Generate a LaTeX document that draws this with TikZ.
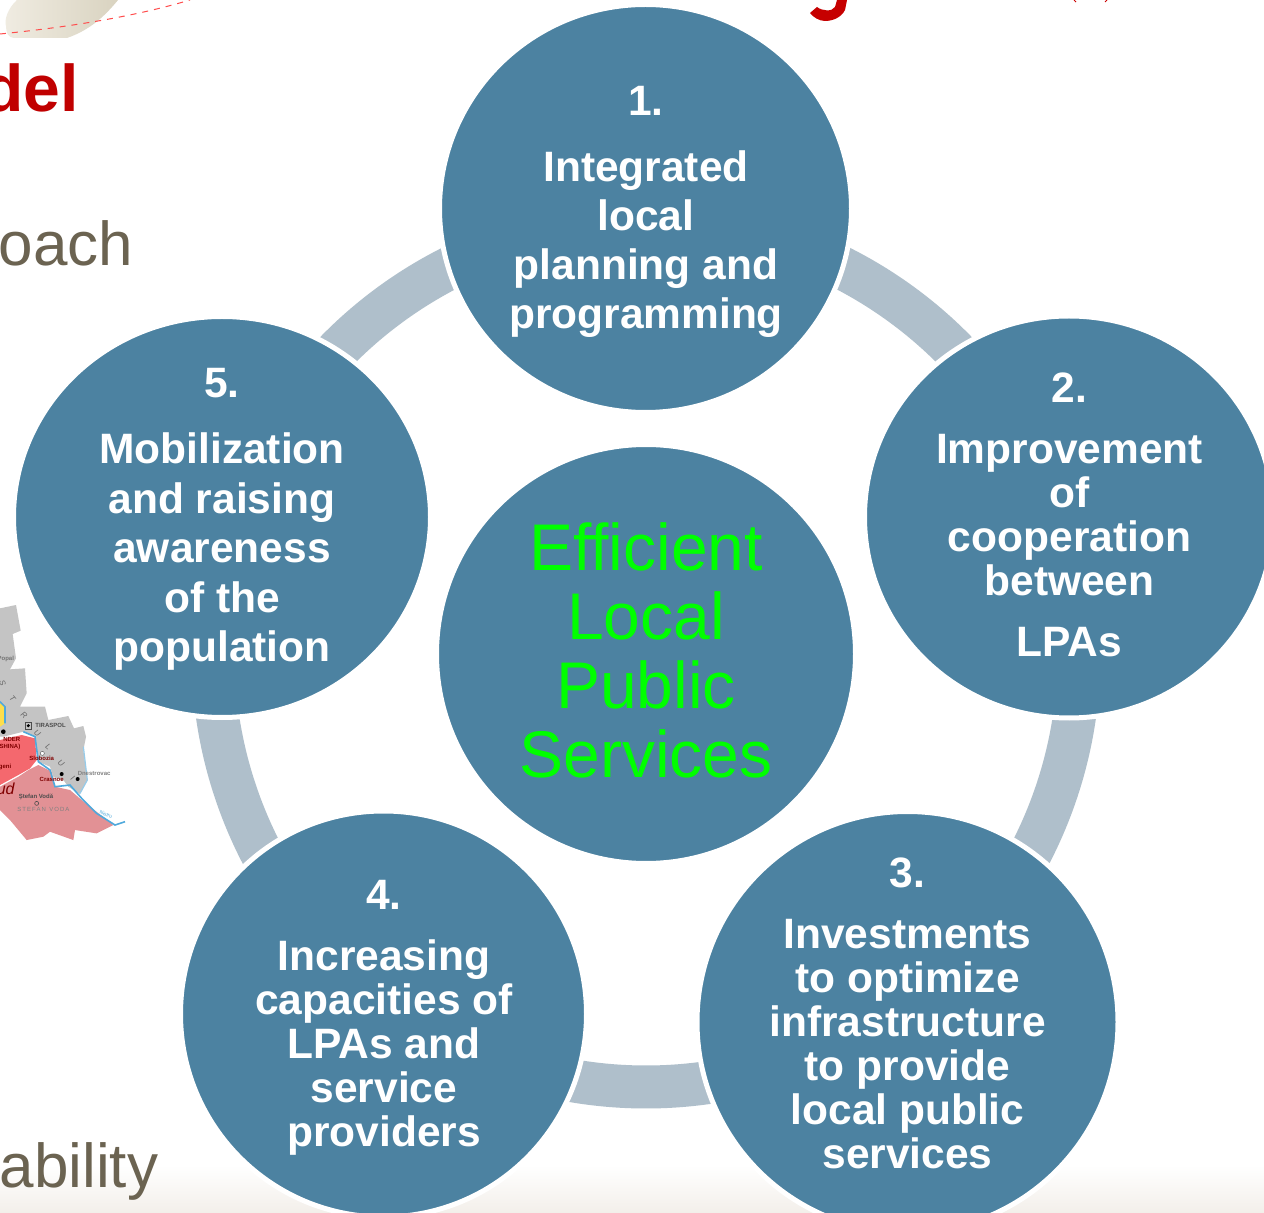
\documentclass[tikz,border=0pt]{standalone}
\usepackage{fontspec}
\setmainfont{Liberation Sans}
\usetikzlibrary{shapes.geometric}
\definecolor{discblue}{HTML}{4C82A1}
\definecolor{ringblue}{HTML}{AFBFCB}
\definecolor{titlered}{HTML}{C00000}
\definecolor{slidetext}{HTML}{6B6351}
\definecolor{mapgrey}{HTML}{C4C4C4}
\definecolor{mapred}{HTML}{F4686E}
\definecolor{mappink}{HTML}{E29195}
\definecolor{mapriver}{HTML}{4FA9DC}
\definecolor{blobleft}{HTML}{F0ECE2}
\definecolor{blobright}{HTML}{D9D3C0}
\definecolor{footbeige}{HTML}{F3EFEA}
\tikzset{
  disc/.style={ellipse,fill=discblue,draw=white,line width=2.5pt,inner sep=0pt},
  disctext/.style={text=white,font=\bfseries\fontsize{21.25}{22}\selectfont,align=center,inner sep=0pt,anchor=north},
  hubtext/.style={text=green,font=\fontsize{33}{34.5}\selectfont,align=center,inner sep=0pt,anchor=north},
  ringarc/.style={draw=ringblue,line width=21.5pt},
  slidewords/.style={text=slidetext,font=\fontsize{31}{34}\selectfont,inner sep=0pt,anchor=base east},
  maplabel/.style={text=black!70,font=\bfseries\fontsize{3}{3.5}\selectfont,inner sep=0pt}
}
\begin{document}
\begin{tikzpicture}[x=0.5pt,y=-0.5pt]
\useasboundingbox (0,0) rectangle (1264,1213);
\clip (0,0) rectangle (1264,1213);
\fill[white] (0,0) rectangle (1264,1213);
\shade[top color=white,bottom color=footbeige] (0,1165) rectangle (1264,1213);
% slide remnants
\shade[left color=blobleft,right color=blobright]
  (17,0) .. controls (8,8) and (4,20) .. (6,26) .. controls (6,32) and (8,38) .. (14,38)
  -- (67,38) .. controls (90,30) and (105,16) .. (118,0) -- cycle;
\draw[red!70!white,dashed,line width=0.5pt] (0,34) .. controls (60,28) and (130,18) .. (190,0);
\fill[titlered!90!red] (810,13) -- (817,7) .. controls (822,11) and (832,12) .. (835,7) -- (837,0) -- (847,0)
  -- (845,10) .. controls (841,18) and (832,21) .. (825,21) .. controls (819,21) and (813,17) .. (810,13) -- cycle;
\draw[red!80!black,line width=0.5pt] (1074,0) -- (1076,2) (1107,0) -- (1105,2);
\node[text=titlered,font=\bfseries\fontsize{33}{36}\selectfont,inner sep=0pt,anchor=base east] (title) at (79,112) {del};
\node[slidewords] (wordone) at (133.5,266) {oach};
\node[slidewords] (wordtwo) at (158.5,1187) {ability};
% map fragment
\begin{scope}[shift={(0,590)},x=0.1667pt,y=-0.1667pt]
  \fill[mapgrey] (0,55) -- (48,45) -- (62,122) -- (38,132) -- (48,205) -- (30,238) -- (75,235) -- (80,310) -- (60,350)
    -- (135,350) -- (145,390) -- (205,378) -- (222,415) -- (250,408) -- (258,440) -- (250,480) -- (262,570)
    -- (240,612) -- (205,590) -- (190,570) -- (160,560) -- (150,530) -- (115,515) -- (105,440) -- (70,425)
    -- (10,440) -- (0,440) -- cycle;
  \fill[yellow!70!orange!70!white] (0,340) -- (12,345) -- (15,400) -- (0,410) -- cycle;
  \fill[mapred] (0,450) -- (65,435) -- (105,445) -- (110,510) -- (90,535) -- (55,555) -- (0,585) -- cycle;
  \fill[mappink] (0,590) -- (55,560) -- (85,540) -- (115,525) -- (155,545) -- (165,590) -- (210,600) -- (245,630)
    -- (340,705) -- (290,730) -- (225,720) -- (220,750) -- (150,725) -- (130,740) -- (80,750) -- (30,690) -- (0,660) -- cycle;
  \draw[mapriver,line width=0.8pt] (70,425) -- (105,440) -- (115,515) -- (150,540) -- (165,590) -- (210,585)
    -- (245,625) -- (290,670) -- (345,705) -- (375,695);
  \draw[mapriver!60!white,line width=0.6pt] (250,470) -- (262,570) -- (240,610);
  \draw[mapriver,line width=0.8pt] (0,335) -- (15,350) -- (15,400);
  \fill[black] (85,407) circle (5);
  \draw[black!70,line width=0.3pt] (75,397) rectangle (95,417);
  \fill[black] (10,425) circle (7);
  \fill[white,draw=black!70,line width=0.2pt] (127,490) circle (6);
  \fill[black] (185,552) circle (6);
  \fill[black] (233,567) circle (6);
  \draw[black!70,line width=0.3pt] (110,640) circle (6);
  \node[maplabel,anchor=west] (m1) at (105,405) {TIRASPOL};
  \node[maplabel,anchor=east,text=black!55] (m2) at (43,208) {Popal};
  \node[maplabel,anchor=east,text=red!50!black] (m3) at (62,449) {NDER};
  \node[maplabel,anchor=east,text=red!50!black] (m4) at (62,470) {SHINA)};
  \node[maplabel,anchor=east,text=red!50!black] (m5) at (35,530) {geni};
  \node[maplabel,anchor=center,text=red!50!black] (m6) at (125,506) {Slobozia};
  \node[maplabel,anchor=center,text=red!50!black] (m7) at (155,569) {Crasnoe};
  \node[maplabel,anchor=west,text=black!50] (m8) at (232,549) {Dnestrovac};
  \node[maplabel,anchor=center,text=black!70] (m9) at (108,620) {Ştefan Vodă};
  \node[maplabel,anchor=center,text=black!50,font=\fontsize{3}{3.5}\selectfont] (m10) at (130,659) {S\,T\,E\,F\,A\,N\ \ V\,O\,D\,A};
  \node[text=red!50!black,font=\itshape\fontsize{8}{9}\selectfont,inner sep=0pt,anchor=base east] (m11) at (45,612) {ud};
  \node[maplabel,rotate=-20,text=mapriver,font=\fontsize{2.5}{3}\selectfont] (m12) at (318,673) {Nistru};
  \node[maplabel,text=black!60,font=\itshape\fontsize{4}{4}\selectfont,rotate=-70] (s1) at (8,280) {S};
  \node[maplabel,text=black!60,font=\itshape\fontsize{4}{4}\selectfont,rotate=-50] (s2) at (38,325) {T};
  \node[maplabel,text=black!60,font=\itshape\fontsize{4}{4}\selectfont,rotate=-40] (s3) at (72,376) {R};
  \node[maplabel,text=black!60,font=\itshape\fontsize{4}{4}\selectfont,rotate=-40] (s4) at (112,430) {U};
  \node[maplabel,text=black!60,font=\itshape\fontsize{4}{4}\selectfont,rotate=-40] (s5) at (145,470) {L};
  \node[maplabel,text=black!60,font=\itshape\fontsize{4}{4}\selectfont,rotate=-40] (s6) at (183,520) {U};
  \node[maplabel,text=black!60,font=\itshape\fontsize{4}{4}\selectfont,rotate=-40] (s7) at (218,565) {I};
\end{scope}
% centre disc, then the ring segments it anchors, then the outer discs over their ends
\node[disc,minimum width=209.5pt,minimum height=209.5pt] (hub) at (646,654) {};
\draw[ringarc] ([shift={(-90:433)}]hub.center) arc[start angle=-90,end angle=-18,radius=433];
\draw[ringarc] ([shift={(-18:433)}]hub.center) arc[start angle=-18,end angle=54,radius=433];
\draw[ringarc] ([shift={(54:433)}]hub.center) arc[start angle=54,end angle=126,radius=433];
\draw[ringarc] ([shift={(126:433)}]hub.center) arc[start angle=126,end angle=198,radius=433];
\draw[ringarc] ([shift={(198:433)}]hub.center) arc[start angle=198,end angle=270,radius=433];
\node[disc,minimum width=206pt,minimum height=204pt] (c1) at (645.5,208.5) {};
\node[disc,minimum width=204.5pt,minimum height=201pt] (c2) at (1069,517) {};
\node[disc,minimum width=210.5pt,minimum height=210.5pt] (c3) at (907.5,1022) {};
\node[disc,minimum width=203pt,minimum height=203pt] (c4) at (383.5,1014) {};
\node[disc,minimum width=208.5pt,minimum height=200.5pt] (c5) at (222,517) {};
% texts
\node[hubtext] (thub) at (646,522.5) {Efficient\\Local\\Public\\Services};
\node[disctext] (t1) at (646,86) {1.\\[11pt]Integrated\\[2.5pt]local\\[2.5pt]planning and\\[2.5pt]programming};
\node[disctext] (t2) at (1069.5,372) {2.\\[8.5pt]Improvement\\of\\cooperation\\between\\[8.5pt]LPAs};
\node[disctext] (t3) at (907.5,857) {3.\\[8.5pt]Investments\\to optimize\\infrastructure\\to provide\\local public\\services};
\node[disctext] (t4) at (384,880) {4.\\[8.5pt]Increasing\\capacities of\\LPAs and\\service\\providers};
\node[disctext] (t5) at (222,368) {5.\\[11pt]Mobilization\\[2.75pt]and raising\\[2.75pt]awareness\\[2.75pt]of the\\[2.75pt]population};
\end{tikzpicture}
\end{document}
